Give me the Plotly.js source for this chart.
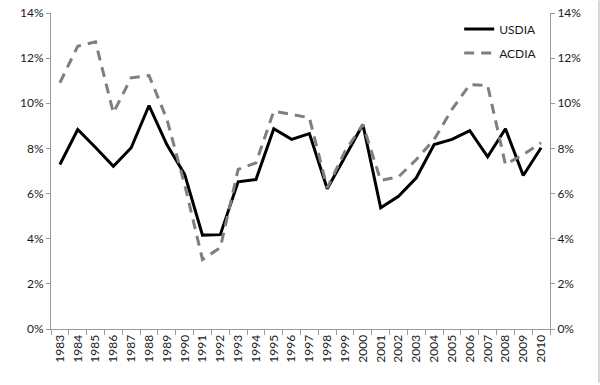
<!DOCTYPE html>
<html>
<head>
<meta charset="utf-8">
<script src="https://cdn.plot.ly/plotly-3.0.1.min.js"></script>
<style>html,body{margin:0;padding:0;background:#fff;}#chart{width:600px;height:385px;}</style>
</head>
<body>
<div id="chart"></div>
<script>
const years = ["1983","1984","1985","1986","1987","1988","1989","1990","1991","1992","1993","1994","1995","1996","1997","1998","1999","2000","2001","2002","2003","2004","2005","2006","2007","2008","2009","2010"];
const usdia = [7.29,8.84,8.04,7.21,8.03,9.90,8.17,6.85,4.16,4.18,6.52,6.62,8.87,8.40,8.66,6.21,7.63,9.06,5.37,5.88,6.70,8.17,8.40,8.79,7.63,8.87,6.80,8.03];
const acdia = [10.91,12.53,12.72,9.58,11.13,11.23,9.30,6.40,3.08,3.60,7.07,7.36,9.65,9.50,9.36,6.25,7.88,9.06,6.58,6.74,7.51,8.40,9.73,10.83,10.79,7.29,7.73,8.25];
const yTickVals = [0,2,4,6,8,10,12,14];
const yTickText = ["0%","2%","4%","6%","8%","10%","12%","14%"];

const font = {family: "Lato, 'Open Sans', sans-serif", size: 12, color: "#1a1a1a"};
const axisCommon = {
  range: [0, 14], tickvals: yTickVals, ticktext: yTickText,
  showgrid: false, zeroline: false, showline: true, linecolor: "#9a9a9a", linewidth: 1,
  ticks: "outside", ticklen: 4, tickcolor: "#9a9a9a", fixedrange: true,
  tickfont: font
};

const traces = [
  {x: years, y: usdia, name: "USDIA", type: "scatter", mode: "lines",
   line: {color: "#000000", width: 3}, legendgroup: "a", hoverinfo: "skip"},
  {x: years, y: acdia, name: "ACDIA", type: "scatter", mode: "lines",
   line: {color: "#7f7f7f", width: 3, dash: "10px,7px"}, legendgroup: "b", hoverinfo: "skip"},
  {x: years, y: usdia, yaxis: "y2", type: "scatter", mode: "none",
   showlegend: false, hoverinfo: "skip"}
];

const layout = {
  width: 600, height: 385,
  margin: {l: 51, r: 50, t: 13, b: 55.5, pad: 0},
  paper_bgcolor: "#ffffff", plot_bgcolor: "#ffffff",
  font: font,
  showlegend: true,
  legend: {x: 0.818, y: 0.995, xanchor: "left", yanchor: "top",
           bgcolor: "rgba(0,0,0,0)", font: font, traceorder: "grouped", tracegroupgap: 5},
  xaxis: {type: "category", range: [-0.5, years.length - 0.5], tickson: "boundaries",
          ticks: "outside", ticklen: 5, tickcolor: "#9a9a9a", tickangle: -90,
          showline: true, linecolor: "#9a9a9a", linewidth: 1, showgrid: false,
          zeroline: false, tickfont: font, fixedrange: true},
  yaxis: Object.assign({side: "left"}, axisCommon),
  yaxis2: Object.assign({side: "right", overlaying: "y"}, axisCommon),
  shapes: [{type: "line", xref: "paper", yref: "paper",
            x0: (599 - 51) / 499, x1: (599 - 51) / 499, y0: -0.17, y1: 1.04,
            line: {color: "#b0b0b0", width: 1}}]
};

Plotly.newPlot("chart", traces, layout, {displayModeBar: false, staticPlot: true});
</script>
</body>
</html>
